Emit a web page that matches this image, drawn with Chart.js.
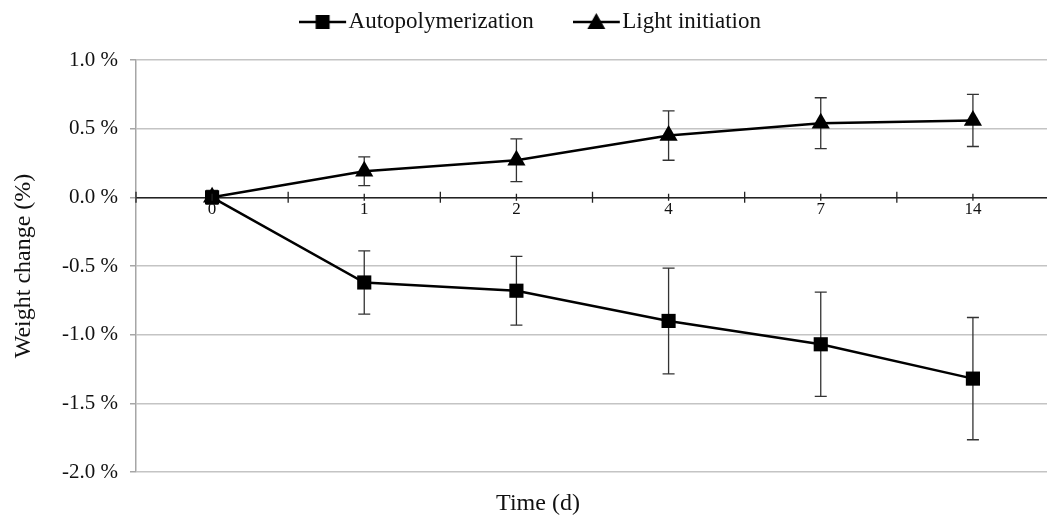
<!DOCTYPE html>
<html>
<head>
<meta charset="utf-8">
<script src="https://cdn.jsdelivr.net/npm/chart.js@4"></script>
<style>
  html, body { margin: 0; padding: 0; background: #fff; overflow: hidden; }
  canvas { display: block; }
</style>
</head>
<body>
<canvas id="c" width="1049" height="519"></canvas>
<script>
const categories = ['0', '1', '2', '4', '7', '14'];
const autoMean = [0, -0.62, -0.68, -0.90, -1.07, -1.32];
const autoErr = [0.03, 0.23, 0.25, 0.385, 0.38, 0.445];
const lightMean = [0, 0.19, 0.27, 0.45, 0.54, 0.56];
const lightErr = [0.05, 0.105, 0.155, 0.18, 0.185, 0.19];
const yTicksMin = -2.0, yTicksMax = 1.0, yStep = 0.5;

const FONT = "'Liberation Serif', 'Times New Roman', serif";
const BOXW = 22;      // legend box width used by Chart.js
const PADL = 27;      // layout padding left

function legendImage(kind) {
  const cv = document.createElement('canvas');
  cv.width = 54; cv.height = 24;
  const c = cv.getContext('2d');
  const left = 0, right = 47, cy = 12, mx = 23.5;
  c.strokeStyle = '#000'; c.lineWidth = 2.5;
  c.beginPath(); c.moveTo(left, cy); c.lineTo(right, cy); c.stroke();
  c.fillStyle = '#000';
  if (kind === 'rect') {
    c.fillRect(mx - 7, cy - 7, 14, 14);
  } else {
    c.beginPath();
    c.moveTo(mx, cy - 9); c.lineTo(mx + 9, cy + 7); c.lineTo(mx - 9, cy + 7);
    c.closePath(); c.fill();
  }
  return cv;
}

const errData = [autoErr, lightErr];
const errorBars = {
  id: 'errorBars',
  beforeDatasetsDraw(chart) {
    const ctx = chart.ctx, y = chart.scales.y;
    ctx.save();
    ctx.strokeStyle = '#333'; ctx.lineWidth = 1.3;
    chart.data.datasets.forEach((ds, i) => {
      const meta = chart.getDatasetMeta(i);
      meta.data.forEach((pt, j) => {
        const v = ds.data[j], e = errData[i][j];
        const yt = y.getPixelForValue(v + e), yb = y.getPixelForValue(v - e);
        ctx.beginPath();
        ctx.moveTo(pt.x, yt); ctx.lineTo(pt.x, yb);
        ctx.moveTo(pt.x - 6, yt); ctx.lineTo(pt.x + 6, yt);
        ctx.moveTo(pt.x - 6, yb); ctx.lineTo(pt.x + 6, yb);
        ctx.stroke();
      });
    });
    ctx.restore();
  }
};

const axisTicks = {
  id: 'axisTicks',
  afterDraw(chart) {
    const ctx = chart.ctx, x = chart.scales.x, y = chart.scales.y;
    const y0 = y.getPixelForValue(0);
    const n = categories.length;
    const w = (x.getPixelForValue(n - 1) - x.getPixelForValue(0)) / (n - 1);
    ctx.save();
    ctx.strokeStyle = '#222'; ctx.lineWidth = 1.3;
    ctx.beginPath();
    for (let i = 0; i < n; i++) {
      const px = x.getPixelForValue(i);
      ctx.moveTo(px, y0 - 3.5); ctx.lineTo(px, y0 + 3.5);
      const bx = px - w / 2;
      ctx.moveTo(bx, y0 - 5.5); ctx.lineTo(bx, y0 + 5.5);
    }
    ctx.stroke();
    ctx.restore();
  }
};

new Chart(document.getElementById('c'), {
  type: 'line',
  data: {
    labels: categories,
    datasets: [
      {
        label: 'Autopolymerization',
        data: autoMean,
        borderColor: '#000', backgroundColor: '#000', borderWidth: 2.5,
        pointStyle: 'rect', pointRadius: 10, pointHoverRadius: 10,
        pointBackgroundColor: '#000', pointBorderColor: '#000', pointBorderWidth: 0,
        tension: 0, fill: false
      },
      {
        label: 'Light initiation',
        data: lightMean,
        borderColor: '#000', backgroundColor: '#000', borderWidth: 2.5,
        pointStyle: 'triangle', pointRadius: 10.5, pointHoverRadius: 10.5,
        pointBackgroundColor: '#000', pointBorderColor: '#000', pointBorderWidth: 0,
        tension: 0, fill: false
      }
    ]
  },
  options: {
    responsive: false,
    animation: false,
    events: [],
    layout: { autoPadding: false, padding: { top: -44.5, left: PADL, right: 0, bottom: 0 } },
    plugins: {
      tooltip: { enabled: false },
      legend: {
        display: true,
        position: 'top',
        labels: {
          usePointStyle: true,
          pointStyleWidth: BOXW,
          padding: 55,
          color: '#111',
          font: { family: FONT, size: 23 },
          generateLabels(chart) {
            return chart.data.datasets.map((ds, i) => ({
              text: ds.label,
              pointStyle: legendImage(i === 0 ? 'rect' : 'triangle'),
              fillStyle: '#000', strokeStyle: '#000', lineWidth: 0,
              hidden: false, datasetIndex: i, fontColor: '#111'
            }));
          }
        }
      },
      title: {
        display: true,
        position: 'bottom',
        text: 'Time (d)',
        color: '#111',
        font: { family: FONT, size: 24, weight: 'normal' },
        padding: { top: 17.6, bottom: 0.6 }
      }
    },
    scales: {
      x: {
        type: 'category',
        position: { y: 0 },
        offset: true,
        afterFit(s) { s.height = 0; },
        grid: { display: false, drawTicks: false },
        border: { display: true, color: '#222', width: 1.5 },
        ticks: {
          color: '#111', padding: 2,
          font: { family: FONT, size: 17 },
          maxRotation: 0, autoSkip: false
        }
      },
      xTop: {
        type: 'category',
        position: 'top',
        afterFit(s) { s.height = 16.5; },
        grid: { display: false },
        border: { display: false },
        ticks: { display: false }
      },
      y: {
        min: yTicksMin, max: yTicksMax,
        afterFit(s) { s.width = 136 - PADL; },
        border: { display: true, color: '#a6a6a6', width: 1.5 },
        grid: { color: '#c4c4c4', lineWidth: 1.5, tickLength: 6, tickColor: '#a6a6a6' },
        ticks: {
          stepSize: yStep, padding: 12, color: '#111',
          font: { family: FONT, size: 21 },
          callback: v => v.toFixed(1) + ' %'
        },
        title: {
          display: true, text: 'Weight change (%)', color: '#111',
          font: { family: FONT, size: 24 },
          padding: { top: -17.4, bottom: 0 }
        }
      }
    }
  },
  plugins: [errorBars, axisTicks]
});
</script>
</body>
</html>
